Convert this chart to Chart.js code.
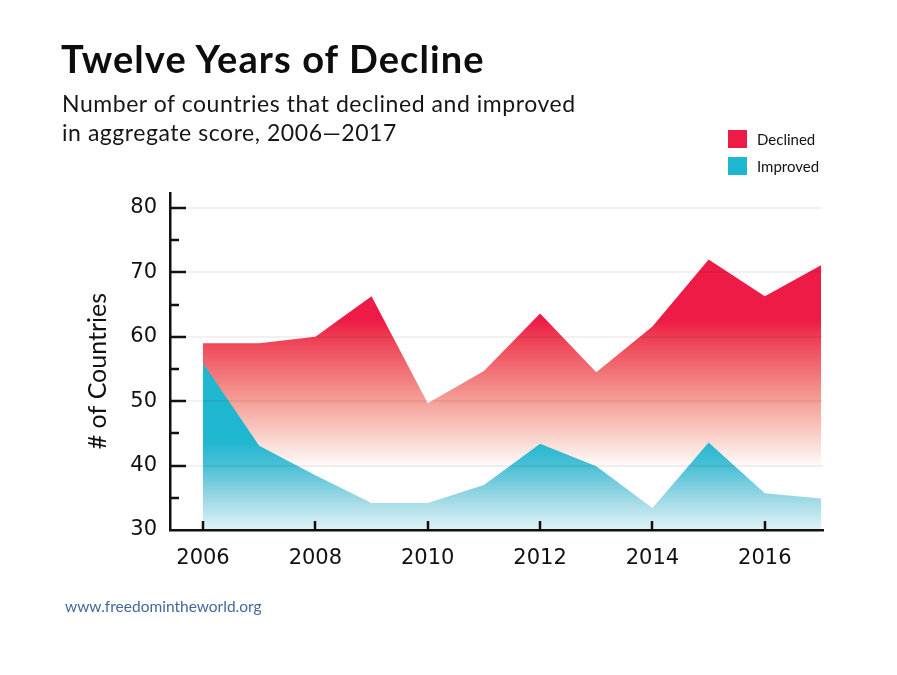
<!DOCTYPE html>
<html>
<head>
<meta charset="utf-8">
<script src="https://cdn.jsdelivr.net/npm/chart.js@4.4.1/dist/chart.umd.min.js"></script>
<style>
  html, body { margin: 0; padding: 0; background: #ffffff; }
  body { width: 897px; height: 675px; position: relative; overflow: hidden; font-family: "Lato", "Open Sans", sans-serif; color: #111; }
  #chart { position: absolute; left: 0; top: 0; width: 897px; height: 675px; }
  .title { position: absolute; left: 61px; top: 36px; font-family: "Lato"; font-weight: 700; font-size: 38px; line-height: 44px; letter-spacing: 1.1px; color: #0d0d0d; white-space: nowrap; }
  .subtitle { position: absolute; left: 62px; top: 89px; font-family: "Lato"; font-size: 23px; line-height: 29px; color: #161616; letter-spacing: 0.55px; white-space: nowrap; }
  .legend { position: absolute; left: 728px; top: 130px; font-family: "Lato"; font-size: 15px; color: #111; }
  .legend .row { display: flex; align-items: center; height: 18px; margin-bottom: 9px; white-space: nowrap; }
  .legend .sw { width: 19px; height: 18px; margin-right: 10px; }
  .footer { position: absolute; left: 65px; top: 597px; font-family: "Lato"; font-size: 15.5px; color: #45689a; white-space: nowrap; }
</style>
</head>
<body>
<canvas id="chart" width="897" height="675"></canvas>
<div class="title">Twelve Years of Decline</div>
<div class="subtitle">Number of countries that declined and improved<br>in aggregate score, 2006—2017</div>
<div class="legend">
  <div class="row"><div class="sw" style="background:#ee1b47"></div>Declined</div>
  <div class="row"><div class="sw" style="background:#1fb6cf"></div>Improved</div>
</div>
<div class="footer">www.freedomintheworld.org</div>
<script>
// ---- data ----
const years = [2006, 2007, 2008, 2009, 2010, 2011, 2012, 2013, 2014, 2015, 2016, 2017];
const declined = [59, 59, 60, 66.3, 49.7, 54.7, 63.6, 54.5, 61.6, 72, 66.3, 71.1];
const improved = [55.9, 43.1, 38.5, 34.2, 34.2, 37, 43.4, 39.9, 33.4, 43.6, 35.7, 34.9];
const xTickYears = [2006, 2008, 2010, 2012, 2014, 2016];
const yTickValues = [30, 40, 50, 60, 70, 80];
const yMinorValues = [35, 45, 55, 65, 75];
const seriesNames = ['Declined', 'Improved'];
const yAxisTitle = '# of Countries   ';

function toPoints(vals) { return years.map((yr, i) => ({ x: yr, y: vals[i] })); }

function redFill(context) {
  const chart = context.chart;
  const { ctx, chartArea, scales } = chart;
  if (!chartArea) return '#ee1b47';
  const y = scales.y;
  const top = y.getPixelForValue(62.5), bot = y.getPixelForValue(39.5);
  const g = ctx.createLinearGradient(0, top, 0, bot);
  g.addColorStop(0, '#ee1b47');
  g.addColorStop(0.1, '#ee3a52');
  g.addColorStop(0.5, '#f4968e');
  g.addColorStop(0.8, '#fad6cf');
  g.addColorStop(1, '#ffffff');
  return g;
}
function blueFill(context) {
  const chart = context.chart;
  const { ctx, chartArea, scales } = chart;
  if (!chartArea) return '#1fb6cf';
  const y = scales.y;
  const top = y.getPixelForValue(44), bot = y.getPixelForValue(30);
  const g = ctx.createLinearGradient(0, top, 0, bot);
  g.addColorStop(0, '#1fb6cf');
  g.addColorStop(0.3, '#4cc0d6');
  g.addColorStop(0.65, '#9cd8e5');
  g.addColorStop(1, '#e0f3f8');
  return g;
}

const innerTicks = {
  id: 'innerTicks',
  afterDraw(chart) {
    const { ctx, chartArea, scales } = chart;
    ctx.save();
    ctx.strokeStyle = '#111';
    ctx.lineWidth = 2.5;
    ctx.beginPath();
    yTickValues.forEach(v => {
      if (v === 30) return;
      const py = Math.round(scales.y.getPixelForValue(v));
      ctx.moveTo(chartArea.left, py); ctx.lineTo(chartArea.left + 16, py);
    });
    yMinorValues.forEach(v => {
      const py = Math.round(scales.y.getPixelForValue(v));
      ctx.moveTo(chartArea.left, py); ctx.lineTo(chartArea.left + 9, py);
    });
    xTickYears.forEach(v => {
      const px = Math.round(scales.x.getPixelForValue(v));
      ctx.moveTo(px, chartArea.bottom); ctx.lineTo(px, chartArea.bottom - 9);
    });
    ctx.stroke();
    ctx.restore();
  }
};

const tickFont = { family: 'DejaVu Sans', size: 21 };

new Chart(document.getElementById('chart'), {
  type: 'line',
  data: {
    datasets: [
      { label: seriesNames[0], data: toPoints(declined), order: 2, fill: 'origin',
        backgroundColor: redFill, borderWidth: 0, pointRadius: 0, tension: 0 },
      { label: seriesNames[1], data: toPoints(improved), order: 1, fill: 'origin',
        backgroundColor: blueFill, borderWidth: 0, pointRadius: 0, tension: 0 }
    ]
  },
  options: {
    responsive: false,
    animation: false,
    layout: { padding: { left: 0, top: 193, right: 74, bottom: 0 } },
    plugins: { legend: { display: false }, tooltip: { enabled: false } },
    scales: {
      x: {
        type: 'linear', min: 2005.4126, max: 2017.0356,
        afterBuildTicks: s => { s.ticks = xTickYears.map(v => ({ value: v })); },
        afterFit: s => { s.height = 145; },
        grid: { display: true, drawTicks: false, color: 'rgba(0,0,0,0)' },
        border: { display: true, color: '#111', width: 2.5, z: 1 },
        ticks: { font: tickFont, color: '#111', padding: 16, maxRotation: 0, callback: v => String(v) }
      },
      y: {
        type: 'linear', min: 30, max: 82.33,
        afterBuildTicks: s => { s.ticks = yTickValues.map(v => ({ value: v })); },
        afterFit: s => { s.width = 170; },
        grid: { display: true, drawTicks: false, z: 1, lineWidth: 2,
                color: c => (c.tick && c.tick.value === 30) ? 'rgba(0,0,0,0)' : 'rgba(0,0,0,0.055)' },
        border: { display: true, color: '#111', width: 2.5, z: 1 },
        ticks: { font: tickFont, color: '#111', padding: 13, callback: v => String(v) },
        title: { display: true, text: yAxisTitle, color: '#111',
                 font: { family: 'Lato', size: 25 }, padding: { top: 83, bottom: 0 } }
      }
    }
  },
  plugins: [innerTicks]
});
</script>
</body>
</html>
